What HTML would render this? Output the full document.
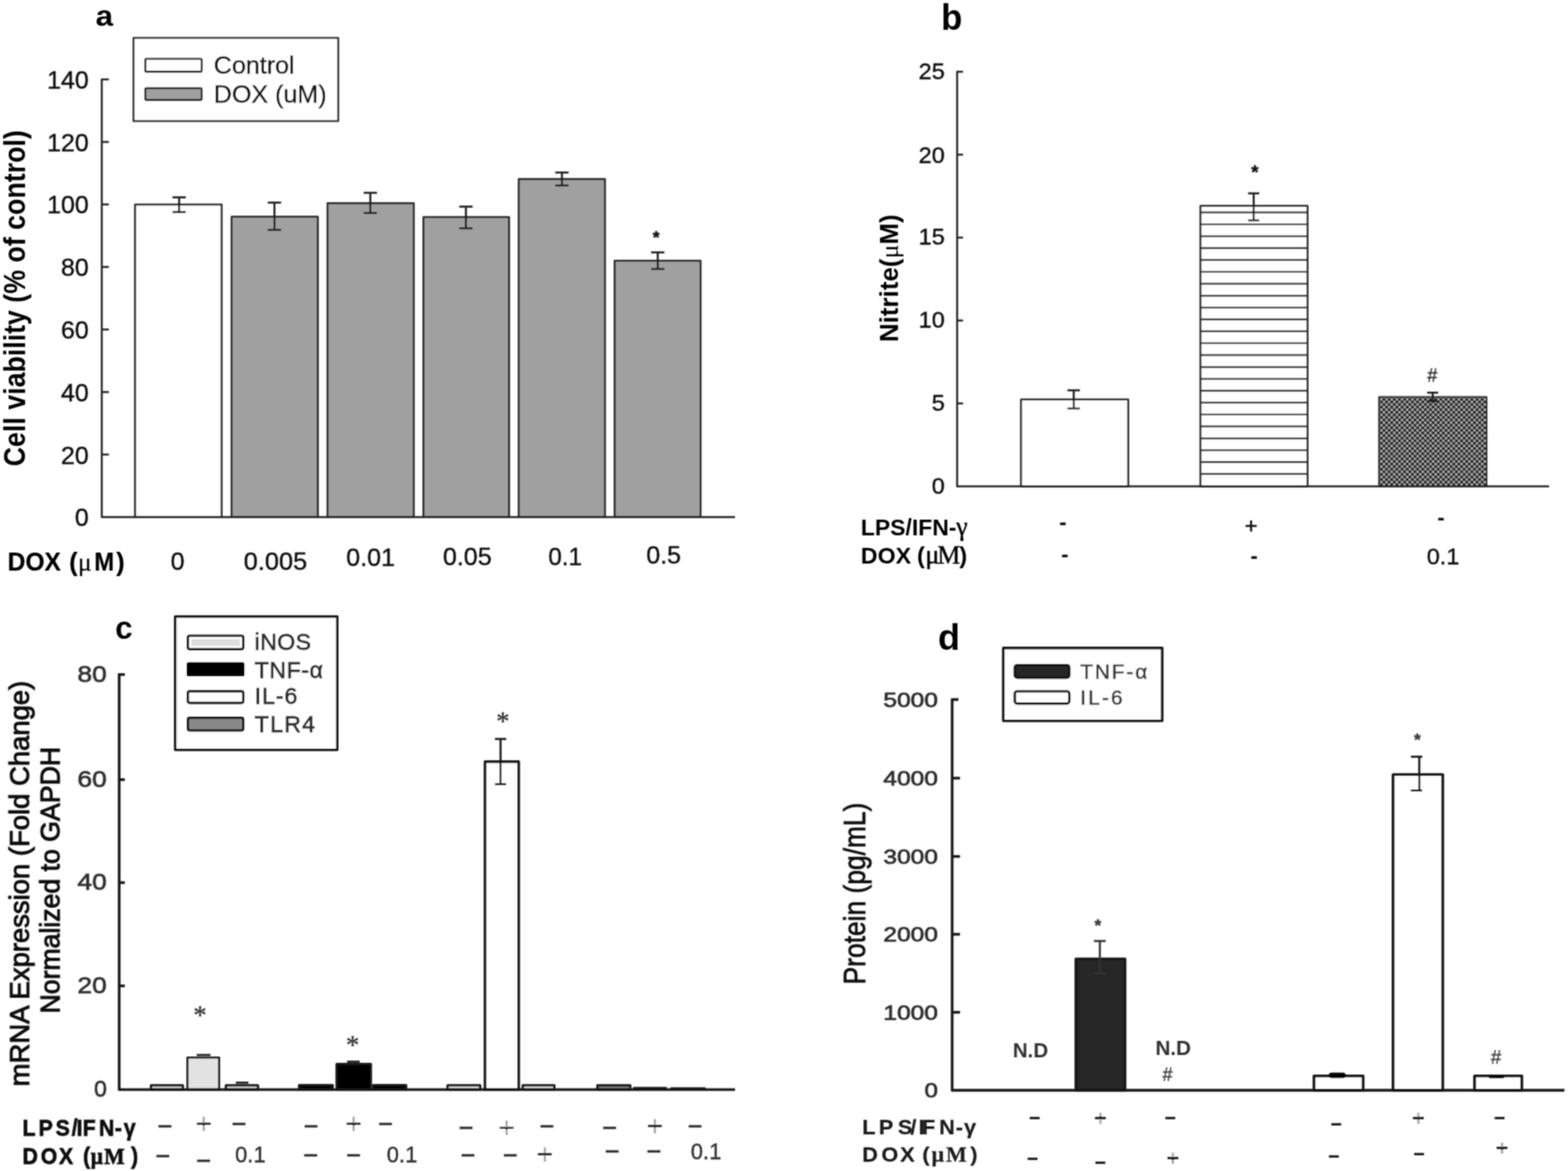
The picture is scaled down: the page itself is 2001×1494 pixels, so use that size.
<!DOCTYPE html>
<html lang="en"><head><meta charset="utf-8"><title>Figure: DOX effects on cell viability, nitrite, mRNA and protein</title>
<style>html,body{margin:0;padding:0;background:#fff}svg{display:block}</style></head><body>
<svg xmlns="http://www.w3.org/2000/svg" width="2001" height="1494" viewBox="0 0 2001 1494">
<defs>
<pattern id="dots" width="6.6" height="6.6" patternUnits="userSpaceOnUse" patternTransform="translate(1761.2 507.85)"><rect width="6.6" height="6.6" fill="#484848"/><rect x="0.45" y="0.45" width="2.4" height="2.4" fill="#c4c4c4"/><rect x="3.75" y="3.75" width="2.4" height="2.4" fill="#c4c4c4"/><circle cx="4.95" cy="1.65" r="1.25" fill="#080808"/><circle cx="1.65" cy="4.95" r="1.25" fill="#080808"/></pattern>
<filter id="soft" x="0" y="0" width="100%" height="100%" filterUnits="userSpaceOnUse"><feConvolveMatrix order="3" kernelMatrix="1 2 1 2 4 2 1 2 1" divisor="16" edgeMode="duplicate" preserveAlpha="false"/></filter>
<linearGradient id="plusR" x1="0" y1="0" x2="0" y2="1"><stop offset="0" stop-color="#a4a4a4"/><stop offset="0.468" stop-color="#a4a4a4"/><stop offset="0.474" stop-color="#262626"/><stop offset="0.551" stop-color="#262626"/><stop offset="0.557" stop-color="#a4a4a4"/><stop offset="1" stop-color="#a4a4a4"/></linearGradient>
<linearGradient id="plusB" x1="0" y1="0" x2="0" y2="1"><stop offset="0" stop-color="#b0b0b0"/><stop offset="0.446" stop-color="#b0b0b0"/><stop offset="0.452" stop-color="#262626"/><stop offset="0.573" stop-color="#262626"/><stop offset="0.579" stop-color="#b0b0b0"/><stop offset="1" stop-color="#b0b0b0"/></linearGradient>
</defs>
<rect width="2001" height="1494" fill="#fff"/>
<g filter="url(#soft)" font-family="Liberation Sans, Arial, Helvetica, sans-serif" fill="#111">
<g id="panel-a">
<text x="122" y="33" font-size="36" fill="#000" font-weight="bold" textLength="22.3" lengthAdjust="spacingAndGlyphs">a</text>
<rect x="172.4" y="261.1" width="110.4" height="398.6" fill="#fff" stroke="#262626" stroke-width="2.5" stroke-linejoin="round"/>
<rect x="295.6" y="276.6" width="110" height="383.1" fill="#a0a0a0" stroke="#262626" stroke-width="2.5" stroke-linejoin="round"/>
<rect x="418" y="259.3" width="110" height="400.4" fill="#a0a0a0" stroke="#262626" stroke-width="2.5" stroke-linejoin="round"/>
<rect x="540.4" y="277.1" width="109.2" height="382.6" fill="#a0a0a0" stroke="#262626" stroke-width="2.5" stroke-linejoin="round"/>
<rect x="662" y="228.6" width="110" height="431.1" fill="#a0a0a0" stroke="#262626" stroke-width="2.5" stroke-linejoin="round"/>
<rect x="784.4" y="332.8" width="109.6" height="326.9" fill="#a0a0a0" stroke="#262626" stroke-width="2.5" stroke-linejoin="round"/>
<line x1="129.9" y1="100.3" x2="129.9" y2="660.7" stroke="#262626" stroke-width="2.5"/>
<line x1="129.9" y1="659.7" x2="938" y2="659.7" stroke="#262626" stroke-width="2.5"/>
<line x1="129.9" y1="101.3" x2="138.9" y2="101.3" stroke="#262626" stroke-width="2.5"/>
<line x1="129.9" y1="181.07" x2="138.9" y2="181.07" stroke="#262626" stroke-width="2.5"/>
<line x1="129.9" y1="260.84" x2="138.9" y2="260.84" stroke="#262626" stroke-width="2.5"/>
<line x1="129.9" y1="340.61" x2="138.9" y2="340.61" stroke="#262626" stroke-width="2.5"/>
<line x1="129.9" y1="420.39" x2="138.9" y2="420.39" stroke="#262626" stroke-width="2.5"/>
<line x1="129.9" y1="500.16" x2="138.9" y2="500.16" stroke="#262626" stroke-width="2.5"/>
<line x1="129.9" y1="579.93" x2="138.9" y2="579.93" stroke="#262626" stroke-width="2.5"/>
<text x="113.3" y="112.9" font-size="32" text-anchor="end" stroke="#111" stroke-width="0.45">140</text>
<text x="113.3" y="192.67" font-size="32" text-anchor="end" stroke="#111" stroke-width="0.45">120</text>
<text x="113.3" y="272.44" font-size="32" text-anchor="end" stroke="#111" stroke-width="0.45">100</text>
<text x="113.3" y="352.21" font-size="32" text-anchor="end" stroke="#111" stroke-width="0.45">80</text>
<text x="113.3" y="431.99" font-size="32" text-anchor="end" stroke="#111" stroke-width="0.45">60</text>
<text x="113.3" y="511.76" font-size="32" text-anchor="end" stroke="#111" stroke-width="0.45">40</text>
<text x="113.3" y="591.53" font-size="32" text-anchor="end" stroke="#111" stroke-width="0.45">20</text>
<text x="113.3" y="671.3" font-size="32" text-anchor="end" stroke="#111" stroke-width="0.45">0</text>
<line x1="228.6" y1="251.8" x2="228.6" y2="270.6" stroke="#1c1c1c" stroke-width="2.5"/>
<line x1="220.1" y1="251.8" x2="237.1" y2="251.8" stroke="#1c1c1c" stroke-width="2.5"/>
<line x1="220.1" y1="270.6" x2="237.1" y2="270.6" stroke="#1c1c1c" stroke-width="2.5"/>
<line x1="350.2" y1="258.5" x2="350.2" y2="293.2" stroke="#1c1c1c" stroke-width="2.5"/>
<line x1="341.7" y1="258.5" x2="358.7" y2="258.5" stroke="#1c1c1c" stroke-width="2.5"/>
<line x1="341.7" y1="293.2" x2="358.7" y2="293.2" stroke="#1c1c1c" stroke-width="2.5"/>
<line x1="472.6" y1="246" x2="472.6" y2="271.8" stroke="#1c1c1c" stroke-width="2.5"/>
<line x1="464.1" y1="246" x2="481.1" y2="246" stroke="#1c1c1c" stroke-width="2.5"/>
<line x1="464.1" y1="271.8" x2="481.1" y2="271.8" stroke="#1c1c1c" stroke-width="2.5"/>
<line x1="594.6" y1="263.6" x2="594.6" y2="291.2" stroke="#1c1c1c" stroke-width="2.5"/>
<line x1="586.1" y1="263.6" x2="603.1" y2="263.6" stroke="#1c1c1c" stroke-width="2.5"/>
<line x1="586.1" y1="291.2" x2="603.1" y2="291.2" stroke="#1c1c1c" stroke-width="2.5"/>
<line x1="717.1" y1="220.1" x2="717.1" y2="236.7" stroke="#1c1c1c" stroke-width="2.5"/>
<line x1="708.6" y1="220.1" x2="725.6" y2="220.1" stroke="#1c1c1c" stroke-width="2.5"/>
<line x1="708.6" y1="236.7" x2="725.6" y2="236.7" stroke="#1c1c1c" stroke-width="2.5"/>
<line x1="839.4" y1="322" x2="839.4" y2="343.1" stroke="#1c1c1c" stroke-width="2.5"/>
<line x1="830.9" y1="322" x2="847.9" y2="322" stroke="#1c1c1c" stroke-width="2.5"/>
<line x1="830.9" y1="343.1" x2="847.9" y2="343.1" stroke="#1c1c1c" stroke-width="2.5"/>
<text x="837.3" y="310.4" font-size="22" text-anchor="middle" font-weight="bold" stroke="#111" stroke-width="0.5">*</text>
<rect x="170.4" y="48.4" width="261.2" height="106" fill="#fff" stroke="#262626" stroke-width="2.4" stroke-linejoin="round"/>
<rect x="185.4" y="75" width="71.9" height="16.4" fill="#fff" stroke="#262626" stroke-width="2.6" stroke-linejoin="round" rx="1.5"/>
<rect x="185.4" y="112.5" width="71.9" height="15.1" fill="#a0a0a0" stroke="#262626" stroke-width="2.6" stroke-linejoin="round" rx="1.5"/>
<text x="272.8" y="94.4" font-size="32" stroke="#111" stroke-width="0.45">Control</text>
<text x="272.8" y="130.8" font-size="32" stroke="#111" stroke-width="0.45">DOX (uM)</text>
<text x="226.7" y="727" font-size="32" text-anchor="middle" stroke="#111" stroke-width="0.45">0</text>
<text x="351.6" y="726.6" font-size="32" text-anchor="middle" textLength="81" lengthAdjust="spacingAndGlyphs" stroke="#111" stroke-width="0.45">0.005</text>
<text x="473" y="722.3" font-size="32" text-anchor="middle" stroke="#111" stroke-width="0.45">0.01</text>
<text x="596.3" y="720.5" font-size="32" text-anchor="middle" stroke="#111" stroke-width="0.45">0.05</text>
<text x="721.3" y="720.8" font-size="32" text-anchor="middle" textLength="43" lengthAdjust="spacingAndGlyphs" stroke="#111" stroke-width="0.45">0.1</text>
<text x="846.9" y="718.6" font-size="32" text-anchor="middle" stroke="#111" stroke-width="0.45">0.5</text>
<text x="9.8" y="727.7" font-size="32.5" fill="#000" font-weight="bold" stroke="#000" stroke-width="0.2"><tspan textLength="68" lengthAdjust="spacingAndGlyphs">DOX</tspan><tspan x="88.2">(</tspan><tspan x="99.6" font-family="Liberation Serif, Times New Roman, serif" font-weight="normal" stroke-width="0.3">μ</tspan><tspan x="120.3" textLength="25.5" lengthAdjust="spacingAndGlyphs">M</tspan><tspan x="148.3">)</tspan></text>
<text x="32" y="595" font-size="39" fill="#000" font-weight="bold" textLength="429" lengthAdjust="spacingAndGlyphs" transform="rotate(-90 32 595)">Cell viability (% of control)</text>
</g>
<g id="panel-b">
<text x="1201" y="38" font-size="47" fill="#000" font-weight="bold" textLength="27" lengthAdjust="spacingAndGlyphs">b</text>
<rect x="1303" y="509.8" width="136.8" height="110.7" fill="#fff" stroke="#262626" stroke-width="2.5" stroke-linejoin="round"/>
<rect x="1532" y="262.8" width="136.6" height="357.7" fill="#fff" stroke="#262626" stroke-width="2.5" stroke-linejoin="round"/>
<line x1="1532" y1="271" x2="1668.6" y2="271" stroke="#303030" stroke-width="2.4"/>
<line x1="1532" y1="286.17" x2="1668.6" y2="286.17" stroke="#303030" stroke-width="2.4"/>
<line x1="1532" y1="301.34" x2="1668.6" y2="301.34" stroke="#303030" stroke-width="2.4"/>
<line x1="1532" y1="316.51" x2="1668.6" y2="316.51" stroke="#303030" stroke-width="2.4"/>
<line x1="1532" y1="331.68" x2="1668.6" y2="331.68" stroke="#303030" stroke-width="2.4"/>
<line x1="1532" y1="346.85" x2="1668.6" y2="346.85" stroke="#303030" stroke-width="2.4"/>
<line x1="1532" y1="362.02" x2="1668.6" y2="362.02" stroke="#303030" stroke-width="2.4"/>
<line x1="1532" y1="377.19" x2="1668.6" y2="377.19" stroke="#303030" stroke-width="2.4"/>
<line x1="1532" y1="392.36" x2="1668.6" y2="392.36" stroke="#303030" stroke-width="2.4"/>
<line x1="1532" y1="407.53" x2="1668.6" y2="407.53" stroke="#303030" stroke-width="2.4"/>
<line x1="1532" y1="422.7" x2="1668.6" y2="422.7" stroke="#303030" stroke-width="2.4"/>
<line x1="1532" y1="437.87" x2="1668.6" y2="437.87" stroke="#303030" stroke-width="2.4"/>
<line x1="1532" y1="453.04" x2="1668.6" y2="453.04" stroke="#303030" stroke-width="2.4"/>
<line x1="1532" y1="468.21" x2="1668.6" y2="468.21" stroke="#303030" stroke-width="2.4"/>
<line x1="1532" y1="483.38" x2="1668.6" y2="483.38" stroke="#303030" stroke-width="2.4"/>
<line x1="1532" y1="498.55" x2="1668.6" y2="498.55" stroke="#303030" stroke-width="2.4"/>
<line x1="1532" y1="513.72" x2="1668.6" y2="513.72" stroke="#303030" stroke-width="2.4"/>
<line x1="1532" y1="528.89" x2="1668.6" y2="528.89" stroke="#303030" stroke-width="2.4"/>
<line x1="1532" y1="544.06" x2="1668.6" y2="544.06" stroke="#303030" stroke-width="2.4"/>
<line x1="1532" y1="559.23" x2="1668.6" y2="559.23" stroke="#303030" stroke-width="2.4"/>
<line x1="1532" y1="574.4" x2="1668.6" y2="574.4" stroke="#303030" stroke-width="2.4"/>
<line x1="1532" y1="589.57" x2="1668.6" y2="589.57" stroke="#303030" stroke-width="2.4"/>
<line x1="1532" y1="604.74" x2="1668.6" y2="604.74" stroke="#303030" stroke-width="2.4"/>
<rect x="1759.6" y="506.2" width="137.7" height="114.3" fill="url(#dots)" stroke="#222" stroke-width="1.6" stroke-linejoin="round"/>
<line x1="1221.45" y1="90.5" x2="1221.45" y2="621.5" stroke="#262626" stroke-width="2.5"/>
<line x1="1221.45" y1="620.5" x2="1976.9" y2="620.5" stroke="#262626" stroke-width="2.5"/>
<line x1="1221.45" y1="91.5" x2="1228.95" y2="91.5" stroke="#262626" stroke-width="2.5"/>
<text x="1205.6" y="100.8" font-size="30" text-anchor="end" stroke="#111" stroke-width="0.45">25</text>
<line x1="1221.45" y1="197.3" x2="1228.95" y2="197.3" stroke="#262626" stroke-width="2.5"/>
<text x="1205.6" y="207.6" font-size="30" text-anchor="end" stroke="#111" stroke-width="0.45">20</text>
<line x1="1221.45" y1="303.1" x2="1228.95" y2="303.1" stroke="#262626" stroke-width="2.5"/>
<text x="1205.6" y="312.4" font-size="30" text-anchor="end" stroke="#111" stroke-width="0.45">15</text>
<line x1="1221.45" y1="408.9" x2="1228.95" y2="408.9" stroke="#262626" stroke-width="2.5"/>
<text x="1205.6" y="418.2" font-size="30" text-anchor="end" stroke="#111" stroke-width="0.45">10</text>
<line x1="1221.45" y1="514.7" x2="1228.95" y2="514.7" stroke="#262626" stroke-width="2.5"/>
<text x="1205.6" y="524" font-size="30" text-anchor="end" stroke="#111" stroke-width="0.45">5</text>
<text x="1205.6" y="629.8" font-size="30" text-anchor="end" stroke="#111" stroke-width="0.45">0</text>
<line x1="1370.2" y1="498" x2="1370.2" y2="521.1" stroke="#1c1c1c" stroke-width="2.5"/>
<line x1="1362.3" y1="498" x2="1378.1" y2="498" stroke="#1c1c1c" stroke-width="2.5"/>
<line x1="1362.3" y1="521.1" x2="1378.1" y2="521.1" stroke="#1c1c1c" stroke-width="2.5"/>
<line x1="1599.9" y1="246.7" x2="1599.9" y2="281.1" stroke="#1c1c1c" stroke-width="2.5"/>
<line x1="1592.75" y1="246.7" x2="1607.05" y2="246.7" stroke="#1c1c1c" stroke-width="2.5"/>
<line x1="1592.75" y1="281.1" x2="1607.05" y2="281.1" stroke="#1c1c1c" stroke-width="2.5"/>
<line x1="1828.3" y1="501" x2="1828.3" y2="511.8" stroke="#1c1c1c" stroke-width="2.5"/>
<line x1="1821.3" y1="501" x2="1835.3" y2="501" stroke="#1c1c1c" stroke-width="2.5"/>
<line x1="1821.3" y1="511.8" x2="1835.3" y2="511.8" stroke="#1c1c1c" stroke-width="2.5"/>
<text x="1601.3" y="228.4" font-size="24" text-anchor="middle" font-weight="bold" stroke="#111" stroke-width="0.5">*</text>
<text x="1827.8" y="487.4" font-size="23" fill="#333" text-anchor="middle" stroke="#333" stroke-width="0.45">#</text>
<text x="1098.6" y="683.2" font-size="30" fill="#000" font-weight="bold"><tspan textLength="122" lengthAdjust="spacingAndGlyphs">LPS/IFN-</tspan><tspan x="1220.3" font-family="Liberation Serif, Times New Roman, serif" font-weight="normal" font-size="33" stroke="#000" stroke-width="0.5">γ</tspan></text>
<text x="1098.6" y="718.8" font-size="30" fill="#000" font-weight="bold"><tspan textLength="64" lengthAdjust="spacingAndGlyphs">DOX</tspan><tspan x="1170.3">(</tspan><tspan x="1181" font-family="Liberation Serif, Times New Roman, serif" font-weight="normal" font-size="33" stroke="#000" stroke-width="0.5" textLength="44.5" lengthAdjust="spacing">μM</tspan><tspan x="1224.3">)</tspan></text>
<text x="1356.4" y="676" font-size="28" text-anchor="middle" font-weight="bold">-</text>
<text x="1359" y="717" font-size="28" text-anchor="middle" font-weight="bold">-</text>
<text x="1600.4" y="718.5" font-size="28" text-anchor="middle" font-weight="bold">-</text>
<text x="1838.9" y="669.6" font-size="28" text-anchor="middle" font-weight="bold">-</text>
<text x="1596.6" y="680" font-size="28" text-anchor="middle" stroke="#111" stroke-width="0.6">+</text>
<text x="1841.5" y="720.3" font-size="30" text-anchor="middle" stroke="#111" stroke-width="0.45">0.1</text>
<text x="1146.2" y="436.5" font-size="32.5" fill="#000" font-weight="bold" textLength="163" lengthAdjust="spacingAndGlyphs" transform="rotate(-90 1146.2 436.5)">Nitrite(<tspan font-family="Liberation Serif, Times New Roman, serif" font-weight="normal">μ</tspan>M)</text>
</g>
<g id="panel-c">
<text x="147" y="815.3" font-size="40" fill="#000" font-weight="bold">c</text>
<rect x="192.7" y="1384.8" width="40.6" height="5.3" fill="#d8d8d8" stroke="#161616" stroke-width="3" stroke-linejoin="round"/>
<rect x="239.2" y="1349.2" width="40.4" height="40.9" fill="#e2e2e2" stroke="#161616" stroke-width="2.6" stroke-linejoin="round"/>
<rect x="288.3" y="1384.8" width="40.9" height="5.3" fill="#d8d8d8" stroke="#161616" stroke-width="3" stroke-linejoin="round"/>
<rect x="381.7" y="1384.6" width="42.8" height="5.5" fill="#000" stroke="#161616" stroke-width="3" stroke-linejoin="round"/>
<rect x="429.6" y="1357.5" width="43.6" height="32.6" fill="#000" stroke="#161616" stroke-width="3" stroke-linejoin="round"/>
<rect x="476" y="1384.6" width="42.2" height="5.5" fill="#000" stroke="#161616" stroke-width="3" stroke-linejoin="round"/>
<rect x="571.2" y="1384.8" width="41.6" height="5.3" fill="#e8e8e8" stroke="#161616" stroke-width="3" stroke-linejoin="round"/>
<rect x="619" y="971.8" width="42.9" height="418.3" fill="#fff" stroke="#161616" stroke-width="3.4" stroke-linejoin="round"/>
<rect x="667.1" y="1384.8" width="40.3" height="5.3" fill="#e8e8e8" stroke="#161616" stroke-width="3" stroke-linejoin="round"/>
<rect x="762.4" y="1384.8" width="41.9" height="5.3" fill="#808080" stroke="#161616" stroke-width="3" stroke-linejoin="round"/>
<rect x="808.9" y="1388" width="41.1" height="2.1" fill="#222" stroke="#161616" stroke-width="2.4" stroke-linejoin="round"/>
<rect x="856.6" y="1388.3" width="42.9" height="1.8" fill="#222" stroke="#161616" stroke-width="2.2" stroke-linejoin="round"/>
<line x1="152.1" y1="859.1" x2="152.1" y2="1391.6" stroke="#161616" stroke-width="3.4"/>
<line x1="152.1" y1="1390.1" x2="938" y2="1390.1" stroke="#161616" stroke-width="3.4"/>
<line x1="152.1" y1="860.6" x2="159.3" y2="860.6" stroke="#161616" stroke-width="3.4"/>
<text x="136.4" y="870.2" font-size="29.5" fill="#333" text-anchor="end" textLength="37.6" lengthAdjust="spacingAndGlyphs" stroke="#333" stroke-width="0.8">80</text>
<line x1="152.1" y1="994.7" x2="159.3" y2="994.7" stroke="#161616" stroke-width="3.4"/>
<text x="136.4" y="1003.5" font-size="29.5" fill="#333" text-anchor="end" textLength="37.6" lengthAdjust="spacingAndGlyphs" stroke="#333" stroke-width="0.8">60</text>
<line x1="152.1" y1="1126.1" x2="159.3" y2="1126.1" stroke="#161616" stroke-width="3.4"/>
<text x="136.4" y="1134.9" font-size="29.5" fill="#333" text-anchor="end" textLength="37.6" lengthAdjust="spacingAndGlyphs" stroke="#333" stroke-width="0.8">40</text>
<line x1="152.1" y1="1257.8" x2="159.3" y2="1257.8" stroke="#161616" stroke-width="3.4"/>
<text x="136.4" y="1266.6" font-size="29.5" fill="#333" text-anchor="end" textLength="37.6" lengthAdjust="spacingAndGlyphs" stroke="#333" stroke-width="0.8">20</text>
<text x="136.4" y="1398.5" font-size="29.5" fill="#333" text-anchor="end" stroke="#333" stroke-width="0.8">0</text>
<line x1="638.8" y1="942.8" x2="638.8" y2="1000.5" stroke="#161616" stroke-width="2.6"/>
<line x1="631.65" y1="942.8" x2="645.95" y2="942.8" stroke="#161616" stroke-width="2.6"/>
<line x1="631.65" y1="1000.5" x2="645.95" y2="1000.5" stroke="#161616" stroke-width="2.6"/>
<line x1="251" y1="1346" x2="268.6" y2="1346" stroke="#161616" stroke-width="2.6"/>
<line x1="301" y1="1381.3" x2="317" y2="1381.3" stroke="#161616" stroke-width="2.6"/>
<line x1="443" y1="1354.5" x2="459" y2="1354.5" stroke="#161616" stroke-width="2.6"/>
<text x="255.3" y="1305.5" font-size="34" font-family="Liberation Serif, Times New Roman, serif" fill="#333" text-anchor="middle" stroke="#333" stroke-width="0.45">*</text>
<text x="450" y="1344" font-size="34" font-family="Liberation Serif, Times New Roman, serif" fill="#333" text-anchor="middle" stroke="#333" stroke-width="0.45">*</text>
<text x="641.8" y="930.5" font-size="34" font-family="Liberation Serif, Times New Roman, serif" fill="#333" text-anchor="middle" stroke="#333" stroke-width="0.45">*</text>
<rect x="223.6" y="786.6" width="206.8" height="170" fill="#fff" stroke="#161616" stroke-width="3.2" stroke-linejoin="round"/>
<rect x="239.7" y="811" width="70.8" height="17.3" fill="#fff" stroke="#161616" stroke-width="3.2" stroke-linejoin="round" rx="2.5"/>
<rect x="244.2" y="815.4" width="61.8" height="8.6" fill="#dedede"/>
<rect x="239.7" y="846.4" width="70.8" height="15" fill="#000" stroke="#000" stroke-width="3.2" stroke-linejoin="round" rx="1"/>
<rect x="239.7" y="881.8" width="70.8" height="15" fill="#fff" stroke="#161616" stroke-width="3.2" stroke-linejoin="round" rx="2.5"/>
<rect x="239.7" y="915.7" width="70.8" height="16.3" fill="#888" stroke="#161616" stroke-width="3.2" stroke-linejoin="round" rx="2.5"/>
<text x="325" y="828.6" font-size="29.5" fill="#2e2e2e" textLength="72" lengthAdjust="spacing" stroke="#2e2e2e" stroke-width="0.9">iNOS</text>
<text x="325" y="864.5" font-size="29.5" fill="#2e2e2e" textLength="87" lengthAdjust="spacing" stroke="#2e2e2e" stroke-width="0.9">TNF-α</text>
<text x="325" y="898.4" font-size="29.5" fill="#2e2e2e" textLength="54.5" lengthAdjust="spacing" stroke="#2e2e2e" stroke-width="0.9">IL-6</text>
<text x="325" y="933.6" font-size="29.5" fill="#2e2e2e" textLength="77" lengthAdjust="spacing" stroke="#2e2e2e" stroke-width="0.9">TLR4</text>
<text y="1448.7" font-size="29.5" font-weight="bold" stroke="#111" stroke-width="0.8" transform="matrix(0.92 0 0 1 0 0)"><tspan x="31.18">L</tspan><tspan x="53.57">P</tspan><tspan x="77.08">S</tspan><tspan x="99.39">/</tspan><tspan x="106.29">I</tspan><tspan x="114.66">F</tspan><tspan x="137.16">N</tspan><tspan x="159.17">-</tspan><tspan x="171.73">γ</tspan></text>
<text y="1484.6" font-size="29.5" font-weight="bold" stroke="#111" stroke-width="0.8" transform="matrix(0.92 0 0 1 0 0)"><tspan x="31.18">D</tspan><tspan x="56.4">O</tspan><tspan x="81.81">X</tspan><tspan x="115.16">(</tspan><tspan x="125.92" font-family="Liberation Serif, Times New Roman, serif" font-weight="bold" font-size="30">μ</tspan><tspan x="144.6" font-family="Liberation Serif, Times New Roman, serif" font-weight="bold" font-size="30">M</tspan><tspan x="181.93">)</tspan></text>
<text x="210.6" y="1444.5" font-size="30" fill="#2a2a2a" text-anchor="middle" textLength="15.5" lengthAdjust="spacingAndGlyphs" stroke="#2a2a2a" stroke-width="1.0">–</text>
<text x="305" y="1441.5" font-size="30" fill="#2a2a2a" text-anchor="middle" textLength="15.5" lengthAdjust="spacingAndGlyphs" stroke="#2a2a2a" stroke-width="1.0">–</text>
<text x="397" y="1444.7" font-size="30" fill="#2a2a2a" text-anchor="middle" textLength="15.5" lengthAdjust="spacingAndGlyphs" stroke="#2a2a2a" stroke-width="1.0">–</text>
<text x="492" y="1441.5" font-size="30" fill="#2a2a2a" text-anchor="middle" textLength="15.5" lengthAdjust="spacingAndGlyphs" stroke="#2a2a2a" stroke-width="1.0">–</text>
<text x="594.8" y="1447.2" font-size="30" fill="#2a2a2a" text-anchor="middle" textLength="15.5" lengthAdjust="spacingAndGlyphs" stroke="#2a2a2a" stroke-width="1.0">–</text>
<text x="697.9" y="1444.7" font-size="30" fill="#2a2a2a" text-anchor="middle" textLength="15.5" lengthAdjust="spacingAndGlyphs" stroke="#2a2a2a" stroke-width="1.0">–</text>
<text x="778" y="1447.2" font-size="30" fill="#2a2a2a" text-anchor="middle" textLength="15.5" lengthAdjust="spacingAndGlyphs" stroke="#2a2a2a" stroke-width="1.0">–</text>
<text x="886.9" y="1444.7" font-size="30" fill="#2a2a2a" text-anchor="middle" textLength="15.5" lengthAdjust="spacingAndGlyphs" stroke="#2a2a2a" stroke-width="1.0">–</text>
<text x="207.8" y="1483.2" font-size="30" fill="#2a2a2a" text-anchor="middle" textLength="15.5" lengthAdjust="spacingAndGlyphs" stroke="#2a2a2a" stroke-width="1.0">–</text>
<text x="259.8" y="1488.6" font-size="30" fill="#2a2a2a" text-anchor="middle" textLength="15.5" lengthAdjust="spacingAndGlyphs" stroke="#2a2a2a" stroke-width="1.0">–</text>
<text x="396.6" y="1482.4" font-size="30" fill="#2a2a2a" text-anchor="middle" textLength="15.5" lengthAdjust="spacingAndGlyphs" stroke="#2a2a2a" stroke-width="1.0">–</text>
<text x="451.2" y="1482.4" font-size="30" fill="#2a2a2a" text-anchor="middle" textLength="15.5" lengthAdjust="spacingAndGlyphs" stroke="#2a2a2a" stroke-width="1.0">–</text>
<text x="597.3" y="1482.4" font-size="30" fill="#2a2a2a" text-anchor="middle" textLength="15.5" lengthAdjust="spacingAndGlyphs" stroke="#2a2a2a" stroke-width="1.0">–</text>
<text x="651.2" y="1482.4" font-size="30" fill="#2a2a2a" text-anchor="middle" textLength="15.5" lengthAdjust="spacingAndGlyphs" stroke="#2a2a2a" stroke-width="1.0">–</text>
<text x="781.2" y="1477.3" font-size="30" fill="#2a2a2a" text-anchor="middle" textLength="15.5" lengthAdjust="spacingAndGlyphs" stroke="#2a2a2a" stroke-width="1.0">–</text>
<text x="834.4" y="1477.3" font-size="30" fill="#2a2a2a" text-anchor="middle" textLength="15.5" lengthAdjust="spacingAndGlyphs" stroke="#2a2a2a" stroke-width="1.0">–</text>
<text x="260" y="1446.17" font-size="36" text-anchor="middle" fill="url(#plusR)">+</text>
<text x="451.3" y="1446.17" font-size="36" text-anchor="middle" fill="url(#plusR)">+</text>
<text x="646.6" y="1451.37" font-size="36" text-anchor="middle" fill="url(#plusR)">+</text>
<text x="835.8" y="1448.77" font-size="36" text-anchor="middle" fill="url(#plusR)">+</text>
<text x="695.3" y="1484.57" font-size="36" text-anchor="middle" fill="url(#plusR)">+</text>
<text x="319.5" y="1483" font-size="30" fill="#333" text-anchor="middle" textLength="39" lengthAdjust="spacingAndGlyphs" stroke="#333" stroke-width="0.45">0.1</text>
<text x="513" y="1483" font-size="30" fill="#333" text-anchor="middle" textLength="39" lengthAdjust="spacingAndGlyphs" stroke="#333" stroke-width="0.45">0.1</text>
<text x="901" y="1479.2" font-size="30" fill="#333" text-anchor="middle" textLength="39" lengthAdjust="spacingAndGlyphs" stroke="#333" stroke-width="0.45">0.1</text>
<text x="36.5" y="1386" font-size="34.5" textLength="517.5" lengthAdjust="spacingAndGlyphs" stroke="#111" stroke-width="1.2" transform="rotate(-90 36.5 1386)">mRNA Expression (Fold Change)</text>
<text x="75.7" y="1293" font-size="34.5" textLength="340" lengthAdjust="spacingAndGlyphs" stroke="#111" stroke-width="1.2" transform="rotate(-90 75.7 1293)">Normalized to GAPDH</text>
</g>
<g id="panel-d">
<text x="1197" y="829.1" font-size="46" fill="#000" font-weight="bold">d</text>
<rect x="1373" y="1223.4" width="62.7" height="167.6" fill="#262626" stroke="#161616" stroke-width="3.4" stroke-linejoin="round"/>
<rect x="1676.9" y="1372.8" width="62.6" height="18.2" fill="#fff" stroke="#161616" stroke-width="3.6" stroke-linejoin="round"/>
<rect x="1777.8" y="988.2" width="63.3" height="402.8" fill="#fff" stroke="#161616" stroke-width="3.6" stroke-linejoin="round"/>
<rect x="1881.8" y="1372.8" width="60.2" height="18.2" fill="#fff" stroke="#161616" stroke-width="3.6" stroke-linejoin="round"/>
<line x1="1215.1" y1="891" x2="1215.1" y2="1392.5" stroke="#161616" stroke-width="3.4"/>
<line x1="1215.1" y1="1391" x2="1996.5" y2="1391" stroke="#161616" stroke-width="3.4"/>
<line x1="1215.1" y1="892.5" x2="1223.1" y2="892.5" stroke="#161616" stroke-width="3.4"/>
<text x="1197" y="901.9" font-size="25.5" fill="#2e2e2e" text-anchor="end" textLength="69.8" lengthAdjust="spacingAndGlyphs" stroke="#2e2e2e" stroke-width="0.8">5000</text>
<line x1="1215.1" y1="992.8" x2="1225.1" y2="992.8" stroke="#161616" stroke-width="3.4"/>
<text x="1197" y="1002.2" font-size="25.5" fill="#2e2e2e" text-anchor="end" textLength="69.8" lengthAdjust="spacingAndGlyphs" stroke="#2e2e2e" stroke-width="0.8">4000</text>
<line x1="1215.1" y1="1092.7" x2="1225.1" y2="1092.7" stroke="#161616" stroke-width="3.4"/>
<text x="1197" y="1102.1" font-size="25.5" fill="#2e2e2e" text-anchor="end" textLength="69.8" lengthAdjust="spacingAndGlyphs" stroke="#2e2e2e" stroke-width="0.8">3000</text>
<line x1="1215.1" y1="1192" x2="1225.1" y2="1192" stroke="#161616" stroke-width="3.4"/>
<text x="1197" y="1201.4" font-size="25.5" fill="#2e2e2e" text-anchor="end" textLength="69.8" lengthAdjust="spacingAndGlyphs" stroke="#2e2e2e" stroke-width="0.8">2000</text>
<line x1="1215.1" y1="1291.5" x2="1225.1" y2="1291.5" stroke="#161616" stroke-width="3.4"/>
<text x="1197" y="1300.9" font-size="25.5" fill="#2e2e2e" text-anchor="end" textLength="69.8" lengthAdjust="spacingAndGlyphs" stroke="#2e2e2e" stroke-width="0.8">1000</text>
<text x="1197" y="1400" font-size="25.5" fill="#2e2e2e" text-anchor="end" textLength="17.2" lengthAdjust="spacingAndGlyphs" stroke="#2e2e2e" stroke-width="0.8">0</text>
<line x1="1403.6" y1="1200.6" x2="1403.6" y2="1242" stroke="#333" stroke-width="2.6"/>
<line x1="1396.1" y1="1200.6" x2="1411.1" y2="1200.6" stroke="#333" stroke-width="2.6"/>
<line x1="1396.1" y1="1242" x2="1411.1" y2="1242" stroke="#333" stroke-width="2.6"/>
<line x1="1811.2" y1="965.4" x2="1811.2" y2="1008.5" stroke="#161616" stroke-width="2.6"/>
<line x1="1800.5" y1="965.4" x2="1815" y2="965.4" stroke="#161616" stroke-width="2.6"/>
<line x1="1800.5" y1="1008.5" x2="1815" y2="1008.5" stroke="#161616" stroke-width="2.6"/>
<line x1="1699.3" y1="1372.1" x2="1713.8" y2="1372.1" stroke="#050505" stroke-width="7" stroke-linecap="round"/>
<line x1="1901.5" y1="1374" x2="1918" y2="1374" stroke="#050505" stroke-width="3.6" stroke-linecap="round"/>
<text x="1401.1" y="1187.8" font-size="22" fill="#3a3a3a" text-anchor="middle" font-weight="bold" stroke="#3a3a3a" stroke-width="0.4">*</text>
<text x="1808.7" y="951.4" font-size="22" fill="#3a3a3a" text-anchor="middle" font-weight="bold" stroke="#3a3a3a" stroke-width="0.4">*</text>
<text x="1909.1" y="1357" font-size="24" fill="#444" text-anchor="middle" stroke="#444" stroke-width="0.45">#</text>
<text x="1490" y="1378.8" font-size="23" fill="#444" text-anchor="middle" stroke="#444" stroke-width="0.45">#</text>
<text x="1292.4" y="1349.4" font-size="25" fill="#333" font-weight="bold" textLength="45.2" lengthAdjust="spacingAndGlyphs">N.D</text>
<text x="1474.4" y="1346.2" font-size="25" fill="#333" font-weight="bold" textLength="45.6" lengthAdjust="spacingAndGlyphs">N.D</text>
<rect x="1280.4" y="826.8" width="202.7" height="92.8" fill="#fff" stroke="#161616" stroke-width="3.4" stroke-linejoin="round"/>
<rect x="1295" y="848.6" width="69.6" height="16" fill="#262626" stroke="#161616" stroke-width="3.2" stroke-linejoin="round" rx="3"/>
<rect x="1295" y="882" width="69.6" height="15.6" fill="#fff" stroke="#161616" stroke-width="3.2" stroke-linejoin="round" rx="3"/>
<text x="1378.6" y="866" font-size="26.5" fill="#3a3a3a" textLength="85.5" lengthAdjust="spacing" stroke="#3a3a3a" stroke-width="0.7">TNF-α</text>
<text x="1378.6" y="898.8" font-size="26.5" fill="#3a3a3a" textLength="54" lengthAdjust="spacing" stroke="#3a3a3a" stroke-width="0.7">IL-6</text>
<text y="1447.3" font-size="26.7" fill="#1a1a1a" font-weight="bold" stroke="#1a1a1a" stroke-width="0.25" transform="matrix(1.04 0 0 1 0 0)"><tspan x="1058.02">L</tspan><tspan x="1078.41">P</tspan><tspan x="1101.63">S</tspan><tspan x="1117.14">/</tspan><tspan x="1127.06">I</tspan><tspan x="1131.29">F</tspan><tspan x="1152.35">N</tspan><tspan x="1172.9">-</tspan><tspan x="1182.88">γ</tspan></text>
<text y="1482.3" font-size="26.7" fill="#1a1a1a" font-weight="bold" stroke="#1a1a1a" stroke-width="0.25" transform="matrix(1.04 0 0 1 0 0)"><tspan x="1058.02">D</tspan><tspan x="1081.5">O</tspan><tspan x="1104.57">X</tspan><tspan x="1131.75">(</tspan><tspan x="1142.93" font-family="Liberation Serif, Times New Roman, serif" font-weight="bold" font-size="27">μ</tspan><tspan x="1160.88" font-family="Liberation Serif, Times New Roman, serif" font-weight="bold" font-size="27">M</tspan><tspan x="1190.65">)</tspan></text>
<text x="1320.6" y="1433.05" font-size="26" fill="#222" text-anchor="middle" font-weight="bold" textLength="16.5" lengthAdjust="spacingAndGlyphs">-</text>
<text x="1493.6" y="1433.15" font-size="26" fill="#222" text-anchor="middle" font-weight="bold" textLength="16.5" lengthAdjust="spacingAndGlyphs">-</text>
<text x="1705.2" y="1441.25" font-size="26" fill="#222" text-anchor="middle" font-weight="bold" textLength="16.5" lengthAdjust="spacingAndGlyphs">-</text>
<text x="1913.8" y="1433.25" font-size="26" fill="#222" text-anchor="middle" font-weight="bold" textLength="16.5" lengthAdjust="spacingAndGlyphs">-</text>
<text x="1317.8" y="1484.85" font-size="26" fill="#222" text-anchor="middle" font-weight="bold" textLength="16.5" lengthAdjust="spacingAndGlyphs">-</text>
<text x="1404.2" y="1490.35" font-size="26" fill="#222" text-anchor="middle" font-weight="bold" textLength="16.5" lengthAdjust="spacingAndGlyphs">-</text>
<text x="1702.3" y="1481.75" font-size="26" fill="#222" text-anchor="middle" font-weight="bold" textLength="16.5" lengthAdjust="spacingAndGlyphs">-</text>
<text x="1810.9" y="1479.35" font-size="26" fill="#222" text-anchor="middle" font-weight="bold" textLength="16.5" lengthAdjust="spacingAndGlyphs">-</text>
<text x="1404.4" y="1435.54" font-size="27.5" font-weight="bold" text-anchor="middle" fill="url(#plusB)">+</text>
<text x="1810" y="1435.64" font-size="27.5" font-weight="bold" text-anchor="middle" fill="url(#plusB)">+</text>
<text x="1496.8" y="1487.14" font-size="27.5" font-weight="bold" text-anchor="middle" fill="url(#plusB)">+</text>
<text x="1916.7" y="1474.04" font-size="27.5" font-weight="bold" text-anchor="middle" fill="url(#plusB)">+</text>
<text x="1104" y="1256" font-size="39.5" textLength="232" lengthAdjust="spacingAndGlyphs" stroke="#111" stroke-width="0.9" transform="rotate(-90 1104 1256)">Protein (pg/mL)</text>
</g>
</g>
</svg></body></html>
